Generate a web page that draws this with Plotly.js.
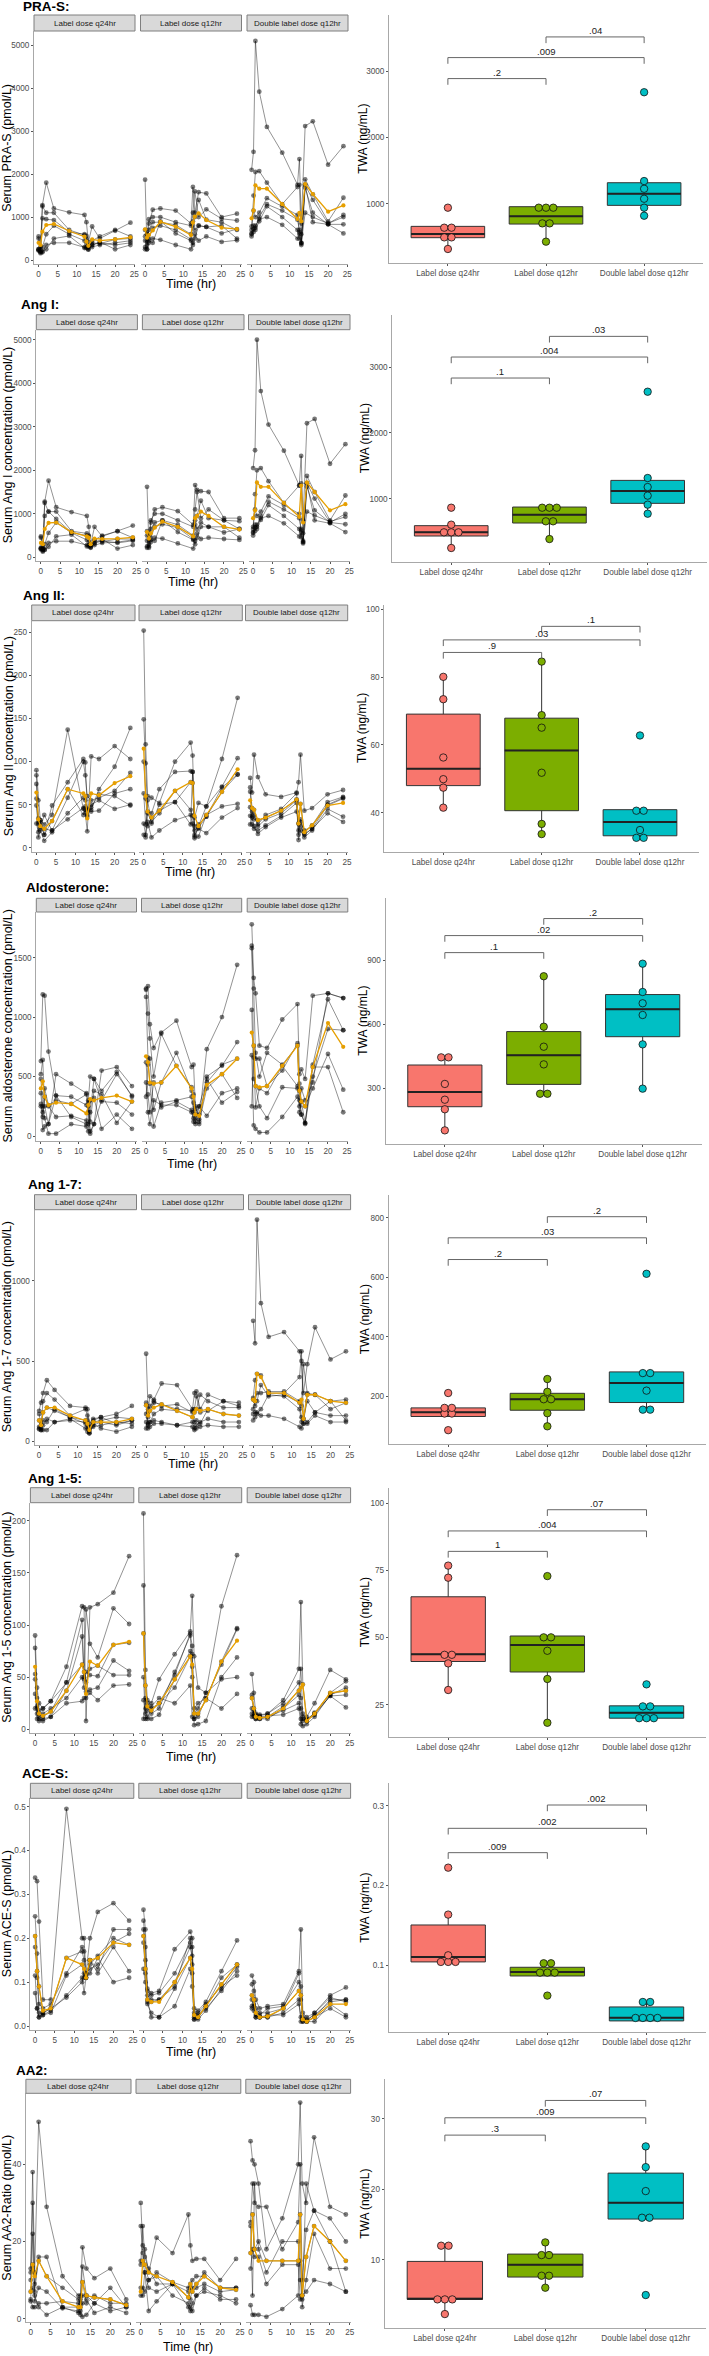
<!DOCTYPE html>
<html><head><meta charset="utf-8">
<script src="https://cdn.plot.ly/plotly-3.0.1.min.js"></script>
<style>html,body{margin:0;padding:0;background:#fff}#chart{width:709px;height:2356px}</style>
</head><body><div id="chart"></div>
<script>
const TIMES = [0, 0.5, 1, 2, 4, 8, 12, 12.5, 13, 14, 16, 20, 24];
const ARMS = ['Label dose q24hr', 'Label dose q12hr', 'Double label dose q12hr'];
const BOX_COLORS = ['#F8766D', '#7CAE00', '#00BFC4'];
const SIG_PAIRS = [[0, 1], [0, 2], [1, 2]];

// ---------- PRA-S ----------
const praS_q24 = [
  [550, 300, 1280, 1800, 1200, 1110, 1050, 880, 420, 780, 500, 680, 870],
  [250, 200, 1250, 1100, 1100, 700, 580, 500, 330, 450, 550, 700, 550],
  [230, 180, 970, 950, 930, 650, 600, 560, 300, 400, 380, 480, 500],
  [500, 250, 300, 600, 800, 600, 450, 380, 250, 350, 420, 250, 350],
  [250, 160, 200, 250, 500, 560, 280, 300, 280, 300, 350, 400, 450],
  [220, 200, 180, 350, 400, 400, 300, 280, 240, 350, 400, 350, 400]];
const praS_q12 = [
  [1870, 250, 850, 1170, 1200, 1150, 850, 1700, 1100, 1580, 1550, 1000, 1080],
  [700, 600, 950, 1000, 1000, 880, 800, 1100, 1600, 1000, 1180, 960, 920],
  [550, 450, 700, 880, 880, 820, 600, 900, 1000, 1400, 940, 880, 700],
  [450, 350, 500, 750, 800, 700, 480, 800, 700, 800, 770, 620, 720],
  [300, 250, 400, 500, 470, 350, 250, 400, 600, 450, 550, 420, 460],
  [250, 600, 450, 400, 900, 620, 450, 350, 500, 800, 770, 800, 500]];
const praS_dbl = [
  [2100, 2520, 5100, 3920, 3100, 2500, 1750, 2350, 850, 3120, 3230, 2220, 2650],
  [780, 1500, 2050, 2070, 1800, 1300, 1700, 1750, 400, 1880, 1530, 900, 1450],
  [700, 1150, 1000, 1100, 1440, 1250, 1050, 650, 600, 1750, 1400, 850, 1050],
  [600, 800, 750, 1000, 1300, 1150, 940, 700, 350, 1680, 1100, 830, 830],
  [550, 720, 700, 900, 1250, 1000, 700, 500, 400, 1100, 1000, 850, 1000],
  [620, 650, 800, 950, 1000, 820, 500, 600, 380, 1750, 880, 830, 620]];
const praS_mean = [
  [400, 350, 660, 815, 838, 675, 543, 430, 330, 480, 450, 480, 528],
  [714, 520, 582, 690, 890, 776, 580, 870, 1010, 1087, 930, 753, 720],
  [970, 1150, 1740, 1660, 1660, 1300, 955, 1100, 900, 1770, 1537, 1125, 1270]];
const praS_twa = [[317, 492, 492, 638, 638, 940], [427, 703, 703, 940, 940, 940], [819, 940, 1075, 1226, 1342, 2683]];
const praS_q1 = [487, 693, 975], praS_med = [543, 809, 1151], praS_q3 = [658, 955, 1317];
const praS_lo = [317, 427, 819], praS_hi = [658, 955, 1342];
const praS_sigY = [2889, 3206, 3518], praS_sigP = ['.2', '.009', '.04'];

// ---------- Ang I ----------
const angI_q24 = [
  [480, 250, 1280, 1760, 1150, 1040, 950, 700, 300, 700, 480, 600, 730],
  [200, 180, 1250, 1050, 1050, 600, 550, 500, 280, 400, 500, 600, 450],
  [220, 150, 950, 1050, 880, 570, 500, 480, 300, 380, 360, 420, 420],
  [450, 200, 300, 560, 800, 560, 400, 350, 230, 330, 420, 200, 280],
  [180, 130, 180, 240, 480, 520, 250, 280, 250, 280, 330, 350, 400],
  [200, 180, 170, 330, 370, 370, 280, 250, 220, 320, 380, 330, 380]];
const angI_q12 = [
  [1620, 250, 800, 1100, 1150, 1060, 750, 1660, 1550, 1520, 1500, 900, 900],
  [600, 500, 850, 1000, 1000, 850, 700, 1100, 1500, 900, 1100, 850, 830],
  [500, 400, 650, 800, 850, 750, 500, 850, 950, 1300, 900, 850, 650],
  [380, 300, 450, 700, 760, 680, 420, 750, 650, 800, 700, 570, 650],
  [250, 220, 350, 450, 430, 320, 200, 380, 550, 420, 450, 420, 400],
  [220, 550, 400, 380, 850, 580, 400, 300, 450, 700, 700, 700, 450]];
const angI_dbl = [
  [2050, 2460, 5000, 3820, 3050, 2450, 1650, 2330, 850, 3080, 3180, 2150, 2600],
  [700, 1450, 2000, 2050, 1750, 1250, 1650, 1700, 350, 1870, 1500, 850, 1420],
  [650, 1100, 950, 1050, 1400, 1200, 1000, 620, 550, 1700, 1350, 800, 1000],
  [560, 750, 700, 950, 1280, 1100, 900, 650, 320, 1620, 1080, 800, 760],
  [500, 680, 650, 860, 1200, 950, 650, 460, 380, 1050, 960, 820, 930],
  [580, 600, 750, 900, 950, 780, 480, 560, 350, 1700, 850, 780, 580]];
const angI_mean = [
  [330, 300, 650, 790, 800, 580, 480, 450, 300, 430, 420, 430, 460],
  [580, 430, 550, 680, 820, 700, 480, 900, 950, 1050, 950, 700, 640],
  [900, 1080, 1720, 1620, 1620, 1250, 930, 1650, 800, 1720, 1500, 1080, 1220]];
const angI_twa = [[251, 489, 489, 489, 605, 863], [387, 656, 656, 863, 863, 863], [772, 909, 1046, 1177, 1314, 2625]];
const angI_q1 = [433, 630, 929], angI_med = [489, 757, 1116], angI_q3 = [590, 873, 1278];
const angI_lo = [251, 387, 772], angI_hi = [605, 873, 1314];
const angI_sigY = [2833, 3152, 3466], angI_sigP = ['.1', '.004', '.03'];

// ---------- Ang II ----------
const angII_q24 = [
  [90, 55, 32, 27, 38, 137, 45, 40, 19, 106, 103, 118, 103],
  [84, 34, 30, 15, 49, 76, 103, 99, 45, 44, 68, 94, 139],
  [74, 28, 25, 22, 20, 58, 100, 84, 60, 55, 58, 66, 87],
  [57, 12, 20, 8, 18, 40, 58, 55, 44, 42, 43, 63, 68],
  [49, 30, 22, 38, 20, 33, 46, 48, 38, 50, 55, 45, 50],
  [28, 18, 32, 15, 31, 68, 38, 44, 36, 47, 62, 60, 49]];
const angII_q12 = [
  [252, 120, 60, 58, 52, 100, 122, 107, 35, 52, 48, 103, 174],
  [149, 98, 42, 40, 68, 88, 89, 88, 20, 25, 48, 71, 104],
  [100, 57, 25, 35, 43, 53, 76, 75, 13, 23, 36, 65, 85],
  [63, 27, 40, 30, 40, 66, 44, 37, 11, 13, 38, 48, 51],
  [28, 15, 30, 12, 20, 32, 38, 28, 15, 22, 17, 35, 46],
  [15, 12, 55, 28, 50, 53, 27, 88, 25, 27, 36, 70, 85]];
const angII_dbl = [
  [81, 64, 108, 82, 62, 59, 64, 76, 108, 43, 46, 62, 67],
  [70, 46, 44, 27, 38, 45, 63, 28, 51, 18, 26, 53, 59],
  [65, 37, 33, 32, 35, 43, 56, 15, 33, 16, 22, 49, 57],
  [47, 27, 22, 20, 26, 37, 52, 9, 20, 12, 20, 45, 36],
  [37, 35, 25, 16, 24, 35, 42, 28, 25, 15, 22, 40, 30],
  [27, 42, 38, 25, 33, 40, 55, 20, 30, 20, 25, 50, 58]];
const angII_mean = [
  [64, 33, 25, 22, 31, 68, 63, 60, 34, 63, 61, 75, 83],
  [115, 60, 42, 35, 43, 66, 76, 75, 37, 25, 38, 65, 91],
  [55, 46, 44, 32, 35, 43, 56, 28, 51, 18, 26, 49, 52]];
const angII_twa = [[41.5, 47.4, 49.9, 56.3, 73.5, 80.1], [33.7, 36.7, 51.8, 65.1, 68.8, 84.6], [32.6, 32.6, 34.9, 40.6, 40.6, 62.8]];
const angII_q1 = [48.0, 40.6, 33.2], angII_med = [53.0, 58.4, 37.3], angII_q3 = [69.1, 67.9, 40.9];
const angII_lo = [41.5, 33.7, 32.6], angII_hi = [80.1, 84.6, 40.9];
const angII_sigY = [87.3, 91.0, 95.0], angII_sigP = ['.9', '.03', '.1'];

// ---------- Aldosterone ----------
const aldo_q24 = [
  [630, 1190, 1180, 710, 340, 160, 100, 280, 500, 480, 380, 540, 330],
  [520, 640, 250, 100, 520, 440, 360, 300, 20, 100, 550, 580, 420],
  [480, 250, 150, 20, 20, 100, 80, 40, 200, 480, 290, 280, 180],
  [360, 160, 330, 250, 160, 170, 130, 100, 300, 320, 60, 180, 60],
  [270, 50, 80, 100, 340, 330, 260, 250, 120, 380, 350, 110, 290],
  [250, 200, 400, 260, 300, 270, 350, 200, 40, 100, 300, 520, 340]];
const aldo_q12 = [
  [1240, 1260, 940, 740, 870, 970, 580, 600, 250, 140, 730, 1000, 1440],
  [1230, 1030, 820, 500, 860, 590, 410, 280, 120, 100, 500, 590, 790],
  [1170, 660, 440, 80, 280, 300, 330, 200, 180, 250, 170, 360, 400],
  [620, 350, 200, 450, 240, 290, 220, 120, 100, 250, 480, 280, 370],
  [450, 200, 100, 300, 260, 260, 200, 150, 150, 120, 400, 520, 320],
  [330, 600, 650, 220, 450, 700, 380, 350, 230, 180, 450, 600, 650]];
const aldo_dbl = [
  [1780, 1330, 1200, 760, 740, 980, 1110, 520, 560, 480, 1180, 1200, 1160],
  [1600, 1240, 650, 650, 420, 550, 780, 440, 290, 110, 600, 1150, 890],
  [1580, 660, 240, 400, 360, 590, 420, 380, 180, 100, 500, 900, 890],
  [1060, 480, 420, 250, 150, 410, 400, 200, 290, 250, 400, 690, 390],
  [680, 90, 60, 30, 30, 160, 330, 300, 180, 110, 580, 580, 200],
  [250, 760, 700, 500, 700, 600, 760, 250, 400, 300, 450, 1200, 1160]];
const aldo_mean = [
  [400, 460, 330, 260, 280, 270, 190, 260, 310, 300, 320, 340, 290],
  [670, 620, 450, 440, 450, 590, 400, 330, 180, 170, 430, 520, 650],
  [870, 760, 420, 410, 420, 590, 760, 380, 290, 250, 580, 950, 750]];
const aldo_twa = [[101, 200, 245, 319, 444, 444], [273, 273, 411, 494, 588, 825], [297, 505, 643, 698, 751, 884]];
const aldo_q1 = [212, 317, 541], aldo_med = [281, 454, 670], aldo_q3 = [408, 565, 739];
const aldo_lo = [101, 273, 297], aldo_hi = [444, 825, 884];
const aldo_sigY = [936, 1016, 1096], aldo_sigP = ['.1', '.02', '.2'];

// ---------- Ang 1-7 ----------
const ang17_q24 = [
  [190, 240, 300, 380, 320, 220, 210, 200, 110, 140, 150, 170, 220],
  [170, 100, 250, 300, 260, 160, 200, 160, 70, 120, 130, 150, 140],
  [130, 80, 180, 210, 190, 150, 130, 100, 50, 100, 120, 100, 130],
  [90, 70, 100, 140, 120, 130, 120, 60, 60, 90, 100, 120, 110],
  [75, 70, 70, 70, 120, 140, 80, 80, 50, 110, 80, 60, 90],
  [80, 120, 130, 120, 200, 150, 110, 130, 90, 130, 150, 110, 130]];
const ang17_q12 = [
  [545, 200, 280, 260, 360, 350, 200, 300, 310, 200, 290, 250, 240],
  [240, 150, 190, 240, 230, 200, 190, 180, 200, 290, 250, 210, 210],
  [225, 110, 120, 170, 200, 190, 150, 120, 130, 110, 200, 170, 160],
  [170, 100, 120, 130, 120, 100, 120, 80, 100, 120, 140, 120, 120],
  [120, 80, 90, 110, 110, 100, 90, 70, 80, 90, 100, 90, 90],
  [80, 180, 220, 250, 220, 230, 180, 200, 280, 180, 190, 250, 220]];
const ang17_dbl = [
  [750, 610, 1380, 860, 650, 680, 560, 500, 300, 480, 710, 510, 560],
  [270, 380, 420, 410, 300, 300, 400, 560, 140, 250, 180, 250, 260],
  [260, 220, 250, 350, 280, 290, 240, 150, 110, 290, 290, 200, 240],
  [170, 180, 180, 160, 160, 140, 90, 80, 110, 110, 160, 120, 120],
  [130, 150, 170, 200, 290, 280, 200, 120, 140, 120, 180, 160, 160],
  [200, 250, 300, 300, 310, 310, 250, 220, 480, 300, 290, 250, 130]];
const ang17_mean = [
  [130, 100, 180, 210, 210, 160, 130, 110, 70, 120, 120, 120, 140],
  [225, 160, 190, 210, 230, 190, 150, 180, 200, 190, 200, 170, 160],
  [260, 250, 420, 400, 300, 300, 240, 260, 140, 290, 290, 250, 240]];
const ang17_twa = [[86, 142, 142, 161, 161, 211], [99, 143, 190, 190, 215, 258], [155, 155, 219, 278, 278, 612]];
const ang17_q1 = [132, 153, 179], ang17_med = [146, 190, 245], ang17_q3 = [161, 210, 282];
const ang17_lo = [132, 99, 155], ang17_hi = [161, 258, 282];
const ang17_sigY = [660, 733, 804], ang17_sigP = ['.2', '.03', '.2'];

// ---------- Ang 1-5 ----------
const ang15_q24 = [
  [90, 40, 25, 20, 27, 60, 118, 117, 8, 117, 120, 131, 166],
  [78, 30, 15, 12, 17, 45, 105, 50, 115, 82, 69, 116, 101],
  [53, 15, 10, 8, 12, 37, 89, 48, 55, 52, 51, 81, 83],
  [48, 20, 12, 15, 20, 30, 50, 40, 36, 38, 40, 66, 56],
  [34, 10, 8, 10, 12, 25, 27, 30, 30, 35, 28, 42, 43],
  [20, 22, 18, 20, 27, 45, 62, 55, 45, 58, 61, 52, 52]];
const ang15_q12 = [
  [207, 57, 28, 25, 48, 72, 94, 128, 70, 40, 35, 118, 167],
  [138, 42, 22, 18, 25, 52, 92, 80, 10, 15, 28, 65, 97],
  [92, 20, 10, 10, 14, 48, 75, 50, 4, 5, 8, 50, 69],
  [50, 10, 12, 20, 25, 40, 70, 72, 20, 25, 30, 62, 96],
  [28, 15, 18, 22, 30, 25, 42, 12, 10, 12, 30, 20, 34],
  [10, 30, 25, 15, 20, 55, 90, 60, 15, 20, 35, 48, 50]];
const ang15_dbl = [
  [53, 35, 15, 14, 15, 28, 58, 122, 43, 12, 25, 57, 48],
  [33, 20, 12, 11, 12, 22, 37, 58, 15, 8, 15, 35, 46],
  [30, 13, 10, 10, 10, 20, 33, 10, 3, 5, 12, 33, 40],
  [20, 15, 12, 12, 13, 14, 20, 5, 10, 8, 14, 32, 33],
  [15, 12, 10, 10, 12, 18, 25, 20, 8, 10, 15, 32, 21],
  [12, 18, 14, 13, 15, 25, 45, 30, 12, 9, 16, 34, 37]];
const ang15_mean = [
  [60, 27, 15, 13, 17, 37, 62, 55, 34, 65, 61, 81, 84],
  [92, 42, 22, 18, 25, 48, 70, 62, 15, 15, 28, 65, 85],
  [30, 20, 12, 11, 12, 20, 37, 40, 43, 8, 15, 35, 37]];
const ang15_twa = [[30.5, 40.4, 43.6, 43.6, 72.3, 76.8], [18.3, 34.6, 45.1, 50.1, 50.1, 72.9], [20, 20, 20, 24.4, 24.4, 32.6]];
const ang15_q1 = [41.1, 37.2, 20.0], ang15_med = [43.8, 47.2, 22.0], ang15_q3 = [65.2, 50.6, 24.6];
const ang15_lo = [30.5, 18.3, 20.0], ang15_hi = [76.8, 50.6, 24.6];
const ang15_sigY = [82.1, 89.7, 97.6], ang15_sigP = ['1', '.004', '.07'];

// ---------- ACE-S ----------
const aceS_q24 = [
  [0.338, 0.33, 0.238, 0.06, 0.06, 0.495, 0.2, 0.2, 0.12, 0.2, 0.26, 0.28, 0.24],
  [0.25, 0.165, 0.09, 0.03, 0.04, 0.155, 0.17, 0.15, 0.11, 0.15, 0.13, 0.22, 0.22],
  [0.18, 0.125, 0.03, 0.025, 0.03, 0.115, 0.14, 0.11, 0.11, 0.12, 0.155, 0.1, 0.11],
  [0.115, 0.04, 0.02, 0.025, 0.035, 0.07, 0.11, 0.075, 0.11, 0.15, 0.12, 0.18, 0.125],
  [0.075, 0.04, 0.02, 0.03, 0.04, 0.065, 0.1, 0.12, 0.12, 0.13, 0.14, 0.19, 0.21],
  [0.205, 0.11, 0.05, 0.04, 0.05, 0.12, 0.18, 0.17, 0.115, 0.14, 0.16, 0.2, 0.185]];
const aceS_q12 = [
  [0.265, 0.22, 0.085, 0.075, 0.08, 0.175, 0.215, 0.2, 0.04, 0.035, 0.055, 0.125, 0.195],
  [0.24, 0.18, 0.07, 0.06, 0.06, 0.1, 0.18, 0.16, 0.02, 0.02, 0.045, 0.095, 0.14],
  [0.19, 0.13, 0.05, 0.03, 0.02, 0.085, 0.155, 0.12, 0.015, 0.015, 0.035, 0.085, 0.135],
  [0.13, 0.1, 0.06, 0.02, 0.02, 0.045, 0.13, 0.09, 0.015, 0.02, 0.04, 0.08, 0.125],
  [0.205, 0.12, 0.055, 0.055, 0.06, 0.09, 0.2, 0.14, 0.025, 0.03, 0.05, 0.09, 0.115],
  [0.22, 0.15, 0.08, 0.07, 0.075, 0.12, 0.19, 0.18, 0.03, 0.025, 0.045, 0.11, 0.14]];
const aceS_dbl = [
  [0.115, 0.1, 0.06, 0.04, 0.045, 0.05, 0.125, 0.22, 0.03, 0.02, 0.03, 0.07, 0.088],
  [0.095, 0.08, 0.03, 0.02, 0.02, 0.04, 0.12, 0.06, 0.01, 0.01, 0.02, 0.06, 0.06],
  [0.045, 0.05, 0.02, 0.02, 0.02, 0.03, 0.06, 0.01, 0.015, 0.01, 0.01, 0.05, 0.025],
  [0.04, 0.035, 0.02, 0.02, 0.025, 0.025, 0.05, 0.02, 0.01, 0.012, 0.02, 0.04, 0.02],
  [0.07, 0.06, 0.04, 0.03, 0.03, 0.04, 0.08, 0.07, 0.02, 0.015, 0.025, 0.055, 0.06],
  [0.06, 0.045, 0.025, 0.025, 0.04, 0.045, 0.1, 0.09, 0.015, 0.01, 0.03, 0.065, 0.055]];
const aceS_mean = [
  [0.205, 0.125, 0.09, 0.035, 0.04, 0.155, 0.14, 0.13, 0.11, 0.15, 0.155, 0.19, 0.185],
  [0.205, 0.13, 0.06, 0.055, 0.055, 0.1, 0.155, 0.13, 0.025, 0.02, 0.045, 0.095, 0.14],
  [0.07, 0.06, 0.03, 0.02, 0.022, 0.04, 0.08, 0.07, 0.015, 0.01, 0.02, 0.05, 0.05]];
const aceS_twa = [[0.1042, 0.1042, 0.1042, 0.1125, 0.1635, 0.2223], [0.062, 0.0908, 0.0908, 0.0908, 0.1025, 0.1025], [0.034, 0.034, 0.034, 0.034, 0.054, 0.054]];
const aceS_q1 = [0.1042, 0.0866, 0.0303], aceS_med = [0.1104, 0.0916, 0.0344], aceS_q3 = [0.1505, 0.0975, 0.0478];
const aceS_lo = [0.1042, 0.0866, 0.0303], aceS_hi = [0.1635, 0.0975, 0.054];
const aceS_sigY = [0.2411, 0.2716, 0.3008], aceS_sigP = ['.009', '.002', '.002'];

// ---------- AA2 ----------
const aa2_q24 = [
  [13, 38, 12, 51, 29, 11, 6, 6, 18.5, 13, 10.5, 13, 5],
  [10, 30, 7, 16, 16, 3, 3, 5, 13.5, 6, 4, 8, 3],
  [4.5, 22, 4.5, 8, 7, 2.7, 2, 1, 4, 5, 1.5, 3, 1.5],
  [7, 8, 6, 3, 1, 3, 1.5, 2, 0.5, 1, 4, 2, 3],
  [5, 3, 3, 4, 4, 4.5, 4, 3, 6, 6, 5.5, 5, 3.5],
  [12, 14, 9, 15, 11, 8, 5, 4, 9.5, 4, 6, 4, 4]];
const aa2_q12 = [
  [30, 19, 18, 12, 21, 17, 27, 19, 15, 15.5, 15.5, 10, 15.5],
  [24, 17, 14, 10, 12, 9.5, 8, 9, 10, 11, 11, 8, 8],
  [15, 15, 12, 2, 4.5, 9, 5.5, 8, 7, 8, 9, 7, 7.5],
  [8, 8, 7, 10, 11, 6, 4, 3, 2, 6, 8, 5, 5],
  [6, 6, 12, 8, 7, 9, 3, 2, 4, 6, 7, 6, 4],
  [14, 24, 16, 13, 9, 9, 7, 5, 8, 9, 12, 8, 8]];
const aa2_dbl = [
  [46, 41, 40, 35, 18, 26, 40, 56, 35, 30, 47, 29, 27],
  [25, 35, 30, 29, 29, 18, 25, 40, 10, 23, 28, 26, 20],
  [13, 18, 16, 16, 9, 14, 14, 5, 6, 7, 10, 9, 7],
  [3.5, 1, 1, 1, 0.5, 2.5, 6, 27, 3, 10, 22, 13, 13],
  [17, 27, 18, 20, 15, 15, 15, 15, 6, 16, 24, 20, 15],
  [24, 6, 35, 18, 12, 20, 20, 10, 5, 35, 28, 20, 7]];
const aa2_mean = [
  [7, 14, 11, 15, 11, 4.5, 3, 3, 9.5, 6, 5.5, 5, 3.5],
  [7, 15, 14, 12, 11, 9.5, 5.5, 9, 7, 9, 11, 8, 7.5],
  [17, 27, 18, 15, 15, 15, 15, 27, 6, 16, 24, 20, 15]];
const aa2_twa = [[2.29, 4.37, 4.37, 4.37, 11.99, 11.99], [6.03, 7.73, 7.73, 10.66, 10.66, 12.46], [4.99, 15.96, 15.96, 19.74, 23.14, 26.08]];
const aa2_q1 = [4.37, 7.54, 15.77], aa2_med = [4.47, 9.29, 18.09], aa2_q3 = [9.76, 10.8, 22.29];
const aa2_lo = [2.29, 6.03, 15.77], aa2_hi = [11.99, 12.46, 26.08];
const aa2_sigY = [27.68, 30.14, 32.6], aa2_sigP = ['.3', '.009', '.07'];

// ---------- panel definitions (data refs + pixel geometry) ----------
const PANELS = [
  {title: 'PRA-S:', ylab: 'Serum PRA-S (pmol/L)', subj: [praS_q24, praS_q12, praS_dbl], mean: praS_mean, twa: praS_twa,
   box: [praS_q1, praS_med, praS_q3, praS_lo, praS_hi], sigY: praS_sigY, sigP: praS_sigP,
   g: {tx: 20.7, ty: 7, fac: [[34, 135], [140.5, 241.5], [247, 348]], sTop: 15, pTop: 31, pBot: 264, yr: [-93, 5333], dt: 1000, fmt: 'd', ylx: 7.3, timeY: 284,
       rx: [389, 703], rTop: 15, rBot: 263, ryr: [105, 3849], rdt: 1000, rfmt: 'd', twaX: 362.7}},
  {title: 'Ang I:', ylab: 'Serum Ang I concentration (pmol/L)', subj: [angI_q24, angI_q12, angI_dbl], mean: angI_mean, twa: angI_twa,
   box: [angI_q1, angI_med, angI_q3, angI_lo, angI_hi], sigY: angI_sigY, sigP: angI_sigP,
   g: {tx: 19, ty: 304.7, fac: [[36.3, 137.4], [142.4, 244], [248.5, 350]], sTop: 314.7, pTop: 329.7, pBot: 561, yr: [-85, 5230], dt: 1000, fmt: 'd', ylx: 8, timeY: 582,
       rx: [392.3, 706.6], rTop: 314.7, rBot: 562, ryr: [38, 3795], rdt: 1000, rfmt: 'd', twaX: 365}},
  {title: 'Ang II:', ylab: 'Serum Ang II concentration (pmol/L)', subj: [angII_q24, angII_q12, angII_dbl], mean: angII_mean, twa: angII_twa,
   box: [angII_q1, angII_med, angII_q3, angII_lo, angII_hi], sigY: angII_sigY, sigP: angII_sigP,
   g: {tx: 20.7, ty: 595.7, fac: [[31.7, 135], [139, 242.3], [245.5, 347.7]], sTop: 605, pTop: 620.7, pBot: 851.7, yr: [-4.6, 263.5], dt: 50, fmt: 'd', ylx: 9, timeY: 871.5,
       rx: [384.3, 699], rTop: 605, rBot: 851.7, ryr: [28.5, 101.3], rdt: 20, rfmt: 'd', twaX: 362.7}},
  {title: 'Aldosterone:', ylab: 'Serum aldosterone concentration (pmol/L)', subj: [aldo_q24, aldo_q12, aldo_dbl], mean: aldo_mean, twa: aldo_twa,
   box: [aldo_q1, aldo_med, aldo_q3, aldo_lo, aldo_hi], sigY: aldo_sigY, sigP: aldo_sigP,
   g: {tx: 23.6, ty: 887, fac: [[36.3, 136.5], [141.5, 241.7], [247.2, 347.8]], sTop: 898.3, pTop: 912, pBot: 1141, yr: [-42, 1884], dt: 500, fmt: 'd', ylx: 8, timeY: 1163.5,
       rx: [385.5, 702], rTop: 897.7, rBot: 1144.3, ryr: [35.5, 1194], rdt: 300, rfmt: 'd', twaX: 362.8}},
  {title: 'Ang 1-7:', ylab: 'Serum Ang 1-7 concentration (pmol/L)', subj: [ang17_q24, ang17_q12, ang17_dbl], mean: ang17_mean, twa: ang17_twa,
   box: [ang17_q1, ang17_med, ang17_q3, ang17_lo, ang17_hi], sigY: ang17_sigY, sigP: ang17_sigP,
   g: {tx: 26, ty: 1184.7, fac: [[34.5, 136.5], [141.5, 243.5], [248.5, 350.6]], sTop: 1194.7, pTop: 1209.7, pBot: 1445, yr: [-23, 1442], dt: 500, fmt: 'd', ylx: 7, timeY: 1464,
       rx: [388.7, 706], rTop: 1194.7, rBot: 1444, ryr: [39.5, 878], rdt: 200, rfmt: 'd', twaX: 365}},
  {title: 'Ang 1-5:', ylab: 'Serum Ang 1-5 concentration (pmol/L)', subj: [ang15_q24, ang15_q12, ang15_dbl], mean: ang15_mean, twa: ang15_twa,
   box: [ang15_q1, ang15_med, ang15_q3, ang15_lo, ang15_hi], sigY: ang15_sigY, sigP: ang15_sigP,
   g: {tx: 26, ty: 1478, fac: [[30.4, 133.8], [138.8, 241.7], [247.2, 350.6]], sTop: 1487.7, pTop: 1502.7, pBot: 1733, yr: [-3.5, 217.3], dt: 50, fmt: 'd', ylx: 7, timeY: 1757,
       rx: [388.7, 706], rTop: 1487.7, rBot: 1737, ryr: [13, 105.8], rdt: 25, rfmt: 'd', twaX: 365}},
  {title: 'ACE-S:', ylab: 'Serum ACE-S (pmol/L)', subj: [aceS_q24, aceS_q12, aceS_dbl], mean: aceS_mean, twa: aceS_twa,
   box: [aceS_q1, aceS_med, aceS_q3, aceS_lo, aceS_hi], sigY: aceS_sigY, sigP: aceS_sigP,
   g: {tx: 20, ty: 1773.3, fac: [[30.4, 133.8], [138.8, 241.7], [247.2, 350.6]], sTop: 1783.3, pTop: 1798.3, pBot: 2030, yr: [-0.0091, 0.519], dt: 0.1, fmt: '.1f', ylx: 7, timeY: 2052,
       rx: [388.7, 706], rTop: 1783.3, rBot: 2032, ryr: [0.0164, 0.328], rdt: 0.1, rfmt: '.1f', twaX: 365}},
  {title: 'AA2:', ylab: 'Serum AA2-Ratio (pmol/L)', subj: [aa2_q24, aa2_q12, aa2_dbl], mean: aa2_mean, twa: aa2_twa,
   box: [aa2_q1, aa2_med, aa2_q3, aa2_lo, aa2_hi], sigY: aa2_sigY, sigP: aa2_sigP,
   g: {tx: 13.6, ty: 2070, fac: [[25.9, 131], [136, 240.8], [245.8, 350.6]], sTop: 2079.3, pTop: 2093.3, pBot: 2322, yr: [-0.85, 58.4], dt: 20, fmt: 'd', ylx: 7, timeY: 2347,
       rx: [384.6, 706], rTop: 2079.3, rBot: 2328.3, ryr: [0.27, 35.6], rdt: 10, rfmt: 'd', twaX: 365}}
];

// ---------- build ----------
const W = 709, H = 2356;
const FONT = 'Liberation Sans, Arial, Helvetica, sans-serif';
const AXC = '#a8a8a8', TICKC = '#4d4d4d';
const fx = px => px / W, fy = px => 1 - px / H;
const xk = n => n === 1 ? 'xaxis' : 'xaxis' + n, yk = n => n === 1 ? 'yaxis' : 'yaxis' + n;
const xr = n => n === 1 ? 'x' : 'x' + n, yr = n => n === 1 ? 'y' : 'y' + n;

const traces = [], shapes = [], annotations = [];
const layout = {width: W, height: H, margin: {l: 0, r: 0, t: 0, b: 0}, paper_bgcolor: '#fff', plot_bgcolor: 'rgba(0,0,0,0)',
  showlegend: false, font: {family: FONT}};

const baseAxis = {showgrid: false, zeroline: false, showline: true, linecolor: AXC, linewidth: 1,
  ticks: 'outside', ticklen: 2, tickwidth: 1, tickcolor: '#555', tickfont: {size: 8.2, color: TICKC, family: FONT}, fixedrange: true};

PANELS.forEach((p, r) => {
  const g = p.g;
  const ly = 2 * r + 1, ry = 2 * r + 2, rxn = 4 * r + 4;
  layout[yk(ly)] = Object.assign({}, baseAxis, {domain: [fy(g.pBot), fy(g.pTop)], range: g.yr, anchor: xr(4 * r + 1),
    tick0: 0, dtick: g.dt, tickformat: g.fmt});
  // row title
  annotations.push({xref: 'paper', yref: 'paper', x: fx(g.tx), y: fy(g.ty), xanchor: 'left', yanchor: 'middle', showarrow: false,
    text: '<b>' + p.title + '</b>', font: {size: 13.5, color: '#000', family: FONT}});
  // left y title
  annotations.push({xref: 'paper', yref: 'paper', x: fx(g.ylx), y: fy((g.pTop + g.pBot) / 2), xanchor: 'center', yanchor: 'middle',
    showarrow: false, textangle: -90, text: p.ylab, font: {size: 12.5, color: '#000', family: FONT}});
  // Time title
  annotations.push({xref: 'paper', yref: 'paper', x: fx((g.fac[0][0] + g.fac[2][1]) / 2), y: fy(g.timeY), xanchor: 'center', yanchor: 'middle',
    showarrow: false, text: 'Time (hr)', font: {size: 12.5, color: '#000', family: FONT}});

  for (let f = 0; f < 3; f++) {
    const xn = 4 * r + 1 + f;
    const [a, b] = g.fac[f];
    layout[xk(xn)] = Object.assign({}, baseAxis, {domain: [fx(a), fx(b)], range: [-1.2, 25.2], anchor: yr(ly),
      tickvals: [0, 5, 10, 15, 20, 25]});
    p.subj[f].forEach(s => traces.push({type: 'scatter', mode: 'lines+markers', x: TIMES, y: s, xaxis: xr(xn), yaxis: yr(ly),
      line: {color: 'rgba(0,0,0,0.45)', width: 0.95}, marker: {color: 'rgba(0,0,0,0.52)', size: 4.8}, hoverinfo: 'skip'}));
    traces.push({type: 'scatter', mode: 'lines+markers', x: TIMES, y: p.mean[f], xaxis: xr(xn), yaxis: yr(ly),
      line: {color: '#E69F00', width: 1.3}, marker: {color: '#E69F00', size: 4.2}, hoverinfo: 'skip'});
    // strip
    shapes.push({type: 'rect', xref: 'paper', yref: 'paper', x0: fx(a), x1: fx(b), y0: fy(g.pTop), y1: fy(g.sTop),
      fillcolor: '#d9d9d9', line: {color: '#7f7f7f', width: 1}, layer: 'above'});
    annotations.push({xref: 'paper', yref: 'paper', x: fx((a + b) / 2), y: fy((g.sTop + g.pTop) / 2), xanchor: 'center', yanchor: 'middle',
      showarrow: false, text: ARMS[f], font: {size: 8, color: '#1a1a1a', family: FONT}});
  }

  // right panel
  layout[xk(rxn)] = Object.assign({}, baseAxis, {domain: [fx(g.rx[0]), fx(g.rx[1])], range: [-0.6, 2.6], anchor: yr(ry),
    tickvals: [0, 1, 2], ticktext: ARMS});
  layout[yk(ry)] = Object.assign({}, baseAxis, {domain: [fy(g.rBot), fy(g.rTop)], range: g.ryr, anchor: xr(rxn),
    tick0: 0, dtick: g.rdt, tickformat: g.rfmt});
  annotations.push({xref: 'paper', yref: 'paper', x: fx(g.twaX), y: fy((g.rTop + g.rBot) / 2), xanchor: 'center', yanchor: 'middle',
    showarrow: false, textangle: -90, text: 'TWA (ng/mL)', font: {size: 12, color: '#000', family: FONT}});

  const [q1, med, q3, lo, hi] = p.box;
  for (let i = 0; i < 3; i++) {
    traces.push({type: 'box', x: [i], q1: [q1[i]], median: [med[i]], q3: [q3[i]], lowerfence: [lo[i]], upperfence: [hi[i]],
      xaxis: xr(rxn), yaxis: yr(ry), width: 0.75, whiskerwidth: 0, fillcolor: BOX_COLORS[i], line: {color: '#333', width: 1},
      boxpoints: false, hoverinfo: 'skip'});
    traces.push({type: 'scatter', mode: 'lines', x: [i - 0.375, i + 0.375], y: [med[i], med[i]], xaxis: xr(rxn), yaxis: yr(ry),
      line: {color: '#222', width: 2}, hoverinfo: 'skip'});
    // dot-plot stacking: identical values are placed side by side
    const vals = p.twa[i];
    const xs = vals.map((v, j) => {
      const same = vals.filter(u => u === v).length;
      const idx = vals.slice(0, j).filter(u => u === v).length;
      return i + (idx - (same - 1) / 2) * 0.074;
    });
    traces.push({type: 'scatter', mode: 'markers', x: xs, y: vals, xaxis: xr(rxn), yaxis: yr(ry), cliponaxis: false,
      marker: {color: BOX_COLORS[i], size: 7.4, line: {color: '#111', width: 0.8}}, hoverinfo: 'skip'});
  }
  // significance brackets
  const span = g.ryr[1] - g.ryr[0], tip = 0.025 * span;
  SIG_PAIRS.forEach(([a, b], k) => {
    const h = p.sigY[k];
    traces.push({type: 'scatter', mode: 'lines', x: [a, a, b, b], y: [h - tip, h, h, h - tip], xaxis: xr(rxn), yaxis: yr(ry),
      line: {color: '#666', width: 1}, hoverinfo: 'skip'});
    annotations.push({xref: xr(rxn), yref: yr(ry), x: (a + b) / 2, y: h, xanchor: 'center', yanchor: 'bottom', yshift: -1,
      showarrow: false, text: p.sigP[k], font: {size: 9.5, color: '#222', family: FONT}});
  });
});

layout.shapes = shapes;
layout.annotations = annotations;
Plotly.newPlot('chart', traces, layout, {staticPlot: true, displayModeBar: false});
</script></body></html>
